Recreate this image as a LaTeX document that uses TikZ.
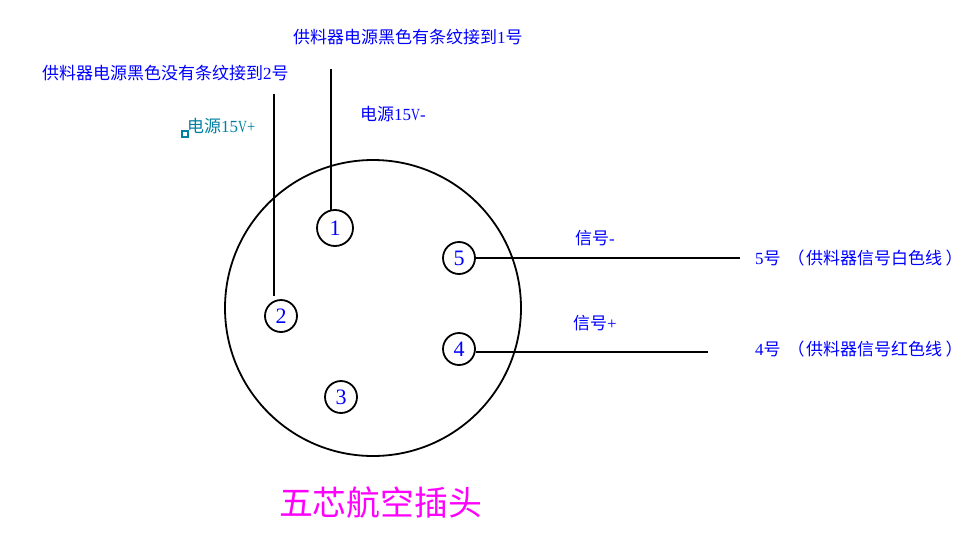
\documentclass[tikz,border=0pt]{standalone}
\usepackage{fontspec}
\setmainfont{Liberation Serif}
\newfontfamily\cjk{Noto Sans CJK SC}
\newcommand{\cj}[1]{{\cjk #1}}
\newcommand{\nv}{\scalebox{0.72}[1]{V}}
\definecolor{labelblue}{RGB}{0,0,255}
\definecolor{labelteal}{RGB}{0,128,160}
\definecolor{titlepink}{RGB}{255,0,255}
\tikzset{
  wire/.style={line width=2pt,draw=black},
  pinc/.style={circle,draw=black,line width=1.8pt,minimum size=32pt,inner sep=0pt,text=labelblue,font=\fontsize{22}{22}\selectfont},
  lab/.style={anchor=west,inner sep=0pt,text=labelblue,font=\fontsize{17}{17}\selectfont},
}
\begin{document}
\begin{tikzpicture}[x=1pt,y=-1pt]
\useasboundingbox (0,0) rectangle (977,538);
\node[circle,draw=black,line width=1.8pt,minimum size=296pt,inner sep=0pt] (shell) at (373,308) {};
\node[pinc,minimum size=36pt] (p1) at (335,228) {1};
\node[pinc] (p2) at (281,316) {2};
\node[pinc] (p3) at (341,397) {3};
\node[pinc] (p4) at (459,349) {4};
\node[pinc] (p5) at (459,258) {5};
\coordinate (e1) at (331,69);
\coordinate (e2) at (274,94);
\coordinate (s2) at (274,296);
\coordinate (e4) at (708,352);
\coordinate (e5) at (740,258);
\draw[wire] (p1.102) -- (p1.102 |- e1);
\draw[wire] (s2) -- (e2);
\draw[wire] (p4.-10.2) -- (p4.-10.2 -| e4);
\draw[wire] (p5.east) -- (e5);
\node[lab] (t1) at (293,37) {\cj{供料器电源黑色有条纹接到}1\cj{号}};
\node[lab] (t2) at (42,73) {\cj{供料器电源黑色没有条纹接到}2\cj{号}};
\node[lab] (t3) at (360,114) {\cj{电源}15\nv-};
\node[lab,text=labelteal] (t4) at (187,126) {\cj{电源}15\nv\scalebox{0.85}[1]{+}};
\node[draw=labelteal,line width=1.7pt,minimum size=5.8pt,inner sep=0pt] (sq) at (185,134) {};
\node[lab] (t5) at (575,238) {\cj{信号}-};
\node[lab] (t6) at (573,323) {\cj{信号}+};
\node[lab] (t7) at (755,258) {5\cj{号}\hspace{7pt}\cj{（}\hspace{1.5pt}\cj{供料器信号白色线}\hspace{3.5pt}\cj{）}};
\node[lab] (t8) at (755,349) {4\cj{号}\hspace{7pt}\cj{（}\hspace{1.5pt}\cj{供料器信号红色线}\hspace{3.5pt}\cj{）}};
\node[anchor=center,inner sep=0pt,text=titlepink,font=\fontsize{33.8}{35}\selectfont] (title) at (380.5,503) {\cj{五芯航空插头}};
\end{tikzpicture}
\end{document}
